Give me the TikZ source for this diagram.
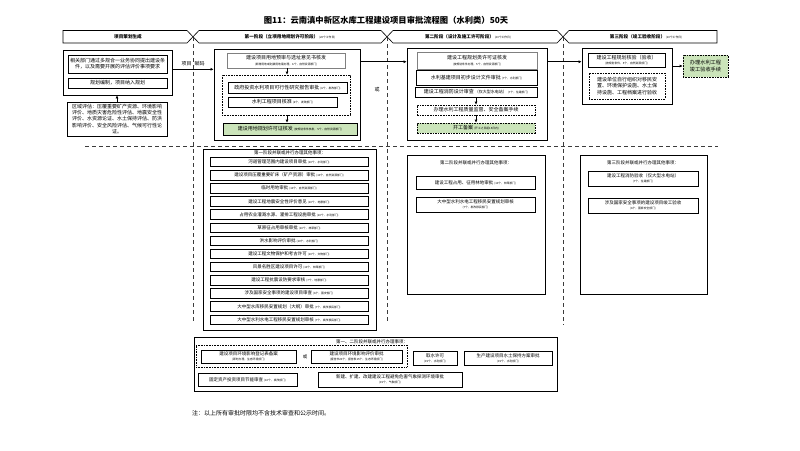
\documentclass[tikz,border=0pt]{standalone}
\usepackage{fontspec}
\setmainfont{Noto Sans CJK SC}
\usetikzlibrary{arrows.meta,calc}
\definecolor{gfill}{RGB}{203,228,186}
\definecolor{sepcol}{RGB}{60,60,60}
\newcommand{\fA}{\fontsize{5}{6}\selectfont}
\newcommand{\fM}{\fontsize{4.5}{5.6}\selectfont}
\newcommand{\fS}{\fontsize{2.8}{3.4}\selectfont}
\newcommand{\fT}{\fontsize{8.3}{10}\selectfont\bfseries}
\newcommand{\fB}{\fontsize{4.6}{5.5}\selectfont\bfseries}
\tikzset{
  bx/.style={draw, line width=0.6pt, inner sep=0pt, align=center, font=\fA},
  obx/.style={draw, line width=0.8pt, inner sep=0pt},
  graybx/.style={bx, draw=black!50, line width=0.8pt},
  dotbx/.style={draw, line width=0.6pt, dash pattern=on 0.8pt off 0.8pt, inner sep=0pt},
  dashbx/.style={bx, dash pattern=on 1.6pt off 1pt},
  greenbx/.style={bx, fill=gfill},
  arr/.style={-{Latex[length=3pt,width=3pt]}, line width=0.6pt},
  sepline/.style={draw=sepcol, line width=1pt, dash pattern=on 4pt off 3pt},
  band/.style={draw, line width=0.6pt, fill=white},
  lbl/.style={inner sep=0pt, font=\fA, align=center},
}
\begin{document}
\begin{tikzpicture}[x=1pt,y=-1pt]
\useasboundingbox[fill=white] (0,0) rectangle (800,450);

% title
\node[lbl, font=\fT] (title) at (386,20) {图11：云南滇中新区水库工程建设项目审批流程图（水利类）50天};

% separators
\draw[sepline] (193,37) -- (193,323);
\draw[sepline] (387,37) -- (387,323);
\draw[sepline] (563,37) -- (563,325);
\draw[sepline] (85,146) -- (718,146);

% stage bands
\draw[band] (63,30.5) -- (187,30.5) -- (193,36.75) -- (187,43) -- (63,43) -- cycle;
\draw[band] (193,36.75) -- (199,30.5) -- (381,30.5) -- (387,36.75) -- (381,43) -- (199,43) -- cycle;
\draw[band] (387,36.75) -- (393,30.5) -- (557,30.5) -- (563,36.75) -- (557,43) -- (393,43) -- cycle;
\draw[band] (563,36.75) -- (569,30.5) -- (717,30.5) -- (717,43) -- (569,43) -- cycle;
\node[lbl, font=\fB] (b0) at (128,36.75) {项目策划生成};
\node[lbl, font=\fB] (b1) at (290,36.75) {第一阶段（立项用地规划许可阶段）\,{\fS\mdseries (20个工作日)}};
\node[lbl, font=\fB] (b2) at (468,36.75) {第二阶段（设计及施工许可阶段）\,{\fS\mdseries (20个工作日)}};
\node[lbl, font=\fB] (b3) at (646,36.75) {第三阶段（竣工验收阶段）\,{\fS\mdseries (10个工作日)}};

% planning column
\node[obx, minimum width=109pt, minimum height=45pt] (p0) at (117.5,72.5) {};
\node[bx, minimum width=99pt, minimum height=18pt] (p1) at (117.5,64) {相关部门通过多规合一业务协同提出建设条\\件，以及需要开展的评估评价事项要求};
\node[bx, minimum width=99pt, minimum height=10pt] (p2) at (117.5,83) {规划编制，项目纳入规划};
\node[bx, minimum width=100pt, minimum height=34pt, font=\fontsize{5}{6.3}\selectfont] (p3) at (117,119) {区域评估：压覆重要矿产资源、环境影响\\评价、地质灾害危险性评估、地震安全性\\评价、水资源论证、水土保持评估、防洪\\影响评价、安全风险评估、气候可行性论\\证。};
\draw[arr] (p3.north) -- (p3.north |- p0.south);

% stage 1
\node[obx, minimum width=146pt, minimum height=91pt] (s1) at (287,94.5) {};
\node[graybx, minimum width=118pt, minimum height=15pt] (sA) at (286,60.5) {建设项目用地预审与选址意见书核发\\[-0.5pt]{\fS (新增用地或划拨用地需办理，6个，自然资源部门)}};
\node[dotbx, minimum width=128pt, minimum height=40pt] (sD) at (286,95) {};
\node[bx, minimum width=119pt, minimum height=11pt] (sB) at (287.5,87.5) {政府投资水利项目可行性研究报告审批 {\fS (6个，发改部门)}};
\node[bx, minimum width=109pt, minimum height=10pt] (sC) at (282.5,102) {水利工程项目核准 {\fS (6个，发改部门)}};
\node[greenbx, minimum width=134pt, minimum height=12pt] (sG) at (290,129) {建设用地规划许可证核发 {\fS (按规划条件核发，5个，自然资源部门)}};
\draw[arr] (sA.south -| 287,0) -- (sD.north -| 287,0);
\draw[arr] (sD.south -| 287,0) -- (sG.north -| 287,0);
\node[lbl] (or1) at (377,90) {或};

% planning -> stage 1
\coordinate (a1) at ($(p0.north east)!0.43!(p0.south east)$);
\draw[arr] (a1) -- (a1 -| s1.west);
\node[lbl] (fuma) at (193,64) {项目\hspace{3pt}赋码};

% stage 2
\node[obx, minimum width=140pt, minimum height=92pt] (s2) at (477,94) {};
\node[graybx, minimum width=120pt, minimum height=17pt] (tD) at (477,60.5) {建设工程规划类许可证核发\\[-0.5pt]{\fS (按规划条件办理，5个，自然资源部门)}};
\node[bx, minimum width=121pt, minimum height=15pt] (tE) at (476.5,77.5) {水利基建项目初步设计文件审批 {\fS (7个，水利部门)}};
\node[bx, minimum width=122pt, minimum height=10pt] (tF) at (476,92) {建设工程消防设计审查 {\fontsize{4}{5}\selectfont （仅大型水电站）} {\fS (7个，住建部门)}};
\node[dashbx, minimum width=118pt, minimum height=10pt] (tH) at (476,110) {办理水利工程质量监督、安全备案手续};
\node[greenbx, dash pattern=on 1.6pt off 1pt, minimum width=118pt, minimum height=10pt] (tG) at (476,128) {开工备案 {\fS (开工之日起15日内)}};
\draw[arr] (tF.south) -- (tH.north);
\draw[arr] (tH.south) -- (tG.north);

% stage 1 -> stage 2
\coordinate (a2) at ($(s1.north east)!0.143!(s1.south east)$);
\draw[arr] (a2) -- (a2 -| s2.west);

% stage 3
\node[obx, minimum width=90pt, minimum height=56pt] (s3) at (627,76) {};
\node[bx, line width=0.9pt, minimum width=77pt, minimum height=14pt] (uG) at (626.5,60) {建设工程规划核验（验收）\\[-0.5pt]{\fS (按规划条件，5个，自然资源部门)}};
\node[bx, dash pattern=on 0.8pt off 0.8pt, minimum width=76pt, minimum height=26pt, font=\fontsize{5}{6.4}\selectfont] (uI) at (627,86) {建设单位自行组织对移民安\\置、环境保护设施、水土保\\持设施、工程档案进行验收};
\node[greenbx, dash pattern=on 0.8pt off 0.8pt, minimum width=45pt, minimum height=22pt, font=\fontsize{5.2}{6.6}\selectfont] (uJ) at (705.5,66) {办理水利工程\\竣工验收手续};
\coordinate (a3) at ($(s2.north east)!0.152!(s2.south east)$);
\draw[arr] (a3) -- (a3 -| s3.west);
\draw[arr] (uJ.west -| s3.east) -- (uJ.west);

% middle left list
\node[obx, minimum width=173pt, minimum height=181pt] (m1) at (289.5,239.5) {};
\node[lbl, font=\fM] (m1t) at (290,153) {第一阶段并联或并行办理其他事项：};
\foreach \t [count=\i] in {
 {河道管理范围内建设项目审批 {\fS (10个，水利部门)}},
 {建设项目压覆重要矿床（矿产资源）审批 {\fS (10个，自然资源部门)}},
 {临时用地审批 {\fS (10个，自然资源部门)}},
 {建设工程地震安全性评价意见 {\fS (10个，地震部门)}},
 {占用农业灌溉水源、灌排工程设施审批 {\fS (10个，水利部门)}},
 {草原征占用审核审批 {\fS (10个，林草部门)}},
 {洪水影响评价审批 {\fS (10个，水利部门)}},
 {建设工程文物保护和考古许可 {\fS (10个，文物部门)}},
 {风景名胜区建设项目许可 {\fS (10个，林草部门)}},
 {建设工程抗震设防要求审核 {\fS (7个，地震部门)}},
 {涉及国家安全事项的建设项目审查 {\fS (6个，国安部门)}},
 {大中型水库移民安置规划（大纲）审批 {\fS (7个，发改移民部门)}},
 {大中型水利水电工程移民安置规划审核 {\fS (7个，发改移民部门)}}}
{
 \node[bx, font=\fM, minimum width=158pt, minimum height=9.5pt] (li\i) at (289,{162+13.13*(\i-1)}) {\t};
}

% middle center
\node[obx, minimum width=138pt, minimum height=139pt] (m2) at (476,224.5) {};
\node[lbl, font=\fM] (m2t) at (476,163) {第二阶段并联或并行办理其他事项：};
\node[bx, font=\fM, minimum width=119pt, minimum height=13pt] (k1) at (475.5,182.5) {建设工程占用、征用林地审批 {\fS (10个，林草部门)}};
\node[bx, font=\fM, minimum width=119pt, minimum height=15pt] (k2) at (475.5,204.5) {大中型水利水电工程移民安置规划审核\\[-0.5pt]{\fS (7个，发改移民部门)}};

% middle right
\node[obx, minimum width=127pt, minimum height=139pt] (m3) at (643.5,224.5) {};
\node[lbl, font=\fM] (m3t) at (643,163) {第三阶段并联或并行办理其他事项：};
\node[bx, font=\fM, minimum width=110pt, minimum height=15pt] (l1) at (643,178.5) {建设工程消防验收（仅大型水电站）\\[-0.5pt]{\fS (7个，住建部门)}};
\node[bx, font=\fM, minimum width=110pt, minimum height=15pt] (l2) at (643,205.5) {涉及国家安全事项的建设项目竣工验收\\[-0.5pt]{\fS (6个，国家安全部门)}};

% bottom box
\node[obx, minimum width=363pt, minimum height=54pt] (bb) at (375.5,364) {};
\node[lbl, font=\fM] (bbt) at (372,341.5) {第一、二阶段并联或并行办理事项：};
\node[dotbx, minimum width=211pt, minimum height=22pt] (bd) at (301.5,356) {};
\node[bx, font=\fM, minimum width=95pt, minimum height=13pt] (n1) at (248.5,356.5) {建设项目环境影响登记表备案\\[-0.5pt]{\fS (即时办理，生态环境部门)}};
\node[lbl, font=\fM] (or2) at (305,357) {或};
\node[bx, font=\fM, minimum width=91pt, minimum height=13pt] (n2) at (356.5,356.5) {建设项目环境影响评价审批\\[-0.5pt]{\fS (报告书20个，报告表15个，生态环境部门)}};
\node[bx, font=\fM, minimum width=44pt, minimum height=14pt] (n3) at (435,358) {取水许可\\[-0.5pt]{\fS (15个，水利部门)}};
\node[bx, font=\fM, minimum width=88pt, minimum height=14pt] (n4) at (508,358) {生产建设项目水土保持方案审批\\[-0.5pt]{\fS (15个，水利部门)}};
\node[bx, font=\fM, minimum width=99pt, minimum height=13pt] (n5) at (247.5,379.5) {固定资产投资项目节能审查 {\fS (10个，发改部门)}};
\node[bx, font=\fM, minimum width=144pt, minimum height=15pt] (n6) at (390,379.5) {新建、扩建、改建建设工程避免危害气象探测环境审批\\[-0.5pt]{\fS (15个，气象部门)}};

% footnote
\node[lbl, font=\fontsize{6}{7}\selectfont, anchor=west] (note) at (192,413) {注：以上所有审批时限均不含技术审查和公示时间。};
\end{tikzpicture}
\end{document}
